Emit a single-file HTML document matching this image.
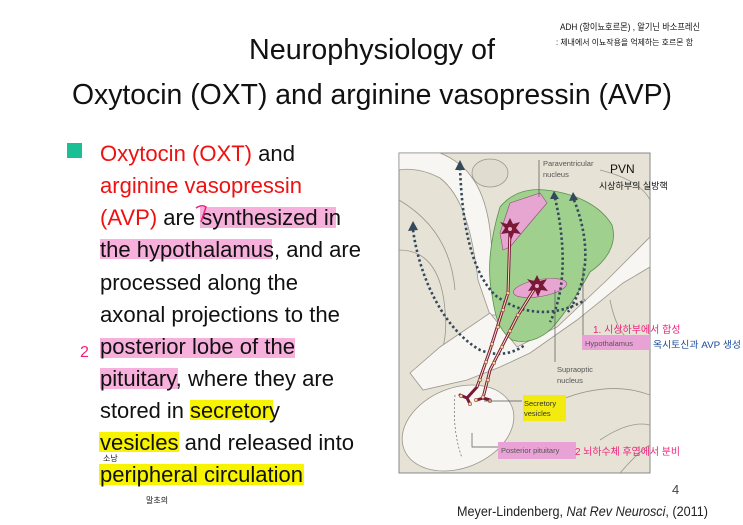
<!DOCTYPE html>
<html><head><meta charset="utf-8"><style>
html,body{margin:0;padding:0;background:#fff;}
svg{display:block;}
</style></head><body>
<svg width="743" height="525" viewBox="0 0 743 525" xmlns="http://www.w3.org/2000/svg" font-family="Liberation Sans, Noto Sans CJK KR, sans-serif">
<rect width="743" height="525" fill="#fff"/>
<text x="372" y="59" font-size="29" text-anchor="middle" fill="#111" textLength="246" lengthAdjust="spacingAndGlyphs">Neurophysiology of</text>
<text x="372" y="104" font-size="29" text-anchor="middle" fill="#111" textLength="600" lengthAdjust="spacingAndGlyphs">Oxytocin (OXT) and arginine vasopressin (AVP)</text>
<text x="560" y="30" font-size="9" fill="#111" textLength="140" lengthAdjust="spacingAndGlyphs">ADH (항이뇨호르몬) , 알기닌 바소프레신</text>
<text x="556" y="45" font-size="8" fill="#111" textLength="137" lengthAdjust="spacingAndGlyphs">: 체내에서 이뇨작용을 억제하는 호르몬 함</text>

<g fill="#f7a8d8" opacity="0.9">
<rect x="200" y="207" width="136" height="21"/>
<rect x="100" y="239" width="172" height="20"/>
<rect x="100" y="338" width="195" height="20"/>
<rect x="100" y="368" width="78" height="21"/>
</g>
<g fill="#f8f400">
<rect x="190" y="400" width="83" height="20"/>
<rect x="99" y="432" width="80" height="20"/>
<rect x="99" y="464" width="205" height="21"/>
</g>
<rect x="67" y="143" width="15" height="15" fill="#1bbf96"/>

<g font-size="22" fill="#111">
<text x="100" y="161" textLength="195" lengthAdjust="spacingAndGlyphs"><tspan fill="#ee1111">Oxytocin (OXT)</tspan> and</text>
<text x="100" y="193" fill="#ee1111" textLength="202" lengthAdjust="spacingAndGlyphs">arginine vasopressin</text>
<text x="100" y="225" textLength="241" lengthAdjust="spacingAndGlyphs"><tspan fill="#ee1111">(AVP)</tspan> are synthesized in</text>
<text x="100" y="257" textLength="261" lengthAdjust="spacingAndGlyphs">the hypothalamus, and are</text>
<text x="100" y="290" textLength="198" lengthAdjust="spacingAndGlyphs">processed along the</text>
<text x="100" y="322" textLength="240" lengthAdjust="spacingAndGlyphs">axonal projections to the</text>
<text x="100" y="354" textLength="195" lengthAdjust="spacingAndGlyphs">posterior lobe of the</text>
<text x="100" y="386" textLength="234" lengthAdjust="spacingAndGlyphs">pituitary, where they are</text>
<text x="100" y="418" textLength="180" lengthAdjust="spacingAndGlyphs">stored in secretory</text>
<text x="100" y="450" textLength="254" lengthAdjust="spacingAndGlyphs">vesicles and released into</text>
<text x="100" y="482" textLength="203" lengthAdjust="spacingAndGlyphs">peripheral circulation</text>
</g>
<path d="M196,208 Q202,204 206,207 L201,222" stroke="#f0207a" stroke-width="1.5" fill="none"/>
<text x="80" y="357" font-size="16" fill="#f0207a">2</text>
<text x="103" y="461" font-size="8" fill="#111">소낭</text>
<text x="146" y="503" font-size="8" fill="#111">말초의</text>

<g>
<rect x="399" y="153" width="251" height="320" fill="#e6e2d6" stroke="#888" stroke-width="1"/>
<clipPath id="c"><rect x="399" y="153" width="251" height="320"/></clipPath>
<g clip-path="url(#c)">
<g fill="none" stroke="#9a968c" stroke-width="0.8">
<path d="M399,250 Q440,250 445,310 Q450,360 420,380"/>
<path d="M399,200 Q450,230 455,290"/>
<path d="M600,170 Q640,180 650,200"/>
<path d="M560,400 Q610,380 650,395"/>
<path d="M600,440 Q630,420 650,425"/>
<path d="M620,473 Q640,450 650,445"/>
<path d="M610,300 Q620,350 650,345"/>
</g>
<path d="M399,153 L440,153 C470,165 485,190 490,230 L495,280 L505,315 L490,315 L478,280 C472,230 462,195 440,178 C425,170 410,168 399,170 Z" fill="#f7f6f2" stroke="#9a968c" stroke-width="0.8"/>
<ellipse cx="490" cy="173" rx="18" ry="14" fill="#e0dccf" stroke="#9a968c" stroke-width="0.8"/>
<path d="M410,373 L440,347 L490,313 L517,347 L557,327 L607,280 L650,237 L650,267 L623,283 L577,320 L530,353 L500,367 L467,380 L423,390 Z" fill="#f7f6f2" stroke="#9a968c" stroke-width="0.8"/>
<ellipse cx="458" cy="428" rx="58" ry="40" transform="rotate(-22 458 428)" fill="#f7f6f2" stroke="#9a968c" stroke-width="0.8"/>
<path d="M455,395 Q452,430 462,458" stroke="#666" stroke-width="0.7" stroke-dasharray="2 2" fill="none"/>
<path d="M500,207 C510,195 525,188 545,190 C575,193 600,205 612,225 C618,245 605,262 590,272 C580,290 568,310 552,328 C540,340 525,344 512,340 C498,330 495,315 492,295 C487,270 490,240 500,207 Z" fill="#9fd08e" stroke="#5a8f4e" stroke-width="0.8"/>
<path d="M500,233 L510,203 L540,193 L547,203 L530,223 L510,247 L503,250 Z" fill="#e7a6d2" stroke="#8a5070" stroke-width="0.6"/>
<ellipse cx="540" cy="288" rx="27" ry="8.5" transform="rotate(-10 540 288)" fill="#e7a6d2" stroke="#8a5070" stroke-width="0.6"/>
<g fill="none" stroke="#34495a" stroke-width="2.6" stroke-dasharray="2.4 2.6">
<path d="M460,168 C462,220 470,270 495,295 C520,315 555,318 585,300"/>
<path d="M413,230 C420,280 445,330 480,350 C500,358 515,352 525,345"/>
<path d="M555,198 C565,240 567,290 550,322"/>
<path d="M574,200 C590,240 590,280 568,312"/>
</g>
<g fill="#34495a">
<path d="M455,170 L460,160 L465,170 Z"/>
<path d="M408,231 L413,221 L418,230 Z"/>
<path d="M550,199 L554,191 L559,199 Z"/>
<path d="M569,201 L573,192 L578,200 Z"/>
</g>
<g stroke="#7a1838" stroke-width="3" fill="none" stroke-linecap="round">
<path d="M510,230 L508,293 L490,350 L477,387 L467,398"/>
<path d="M537,285 L517,317 L490,370 L483,398"/>
<path d="M467,398 L460,395 M467,398 L470,404 M483,398 L477,400 M483,398 L490,400"/>
</g>
<g stroke="#f7e6c0" stroke-width="1" fill="none">
<path d="M510,230 L508,293 L490,350 L477,387"/>
<path d="M537,285 L517,317 L490,370 L483,398"/>
</g>
<g fill="#f0d890" stroke="#7a1838" stroke-width="0.5">
<circle cx="508" cy="293" r="1.8"/><circle cx="503" cy="310" r="1.8"/><circle cx="498" cy="327" r="1.8"/><circle cx="492" cy="344" r="1.8"/><circle cx="486" cy="362" r="1.8"/><circle cx="480" cy="380" r="1.8"/>
<circle cx="518" cy="315" r="1.8"/><circle cx="510" cy="331" r="1.8"/><circle cx="502" cy="347" r="1.8"/><circle cx="494" cy="363" r="1.8"/><circle cx="488" cy="380" r="1.8"/>
<circle cx="461" cy="396" r="1.8"/><circle cx="470" cy="404" r="1.8"/><circle cx="476" cy="400" r="1.8"/><circle cx="483" cy="397" r="1.8"/><circle cx="490" cy="401" r="1.8"/>
</g>
<g fill="#7a1838">
<path d="M510,218 L513,224 L520,222 L516,228 L521,234 L514,233 L511,240 L508,233 L501,234 L505,228 L500,222 L507,224 Z"/>
<path d="M537,275 L540,281 L547,279 L543,285 L548,291 L541,290 L538,297 L535,290 L528,291 L532,285 L527,279 L534,281 Z"/>
</g>
<circle cx="510" cy="229" r="2" fill="#e6b0c8"/><circle cx="537" cy="286" r="2" fill="#e6b0c8"/>
<g stroke="#555" stroke-width="0.7" fill="none">
<path d="M539,160 L539,197"/>
<path d="M583,267 L583,337"/>
<path d="M555,290 L555,362"/>
<path d="M484,401 L522,401"/>
<path d="M472,433 L472,447 L498,447"/>
</g>
<rect x="582" y="335" width="68" height="15" fill="#e9a2d6"/>
<rect x="523" y="395" width="43" height="26" fill="#f3ea10"/>
<rect x="498" y="442" width="78" height="17" fill="#e9a2d6"/>
<g font-size="7.5" fill="#555">
<text x="543" y="166">Paraventricular</text>
<text x="543" y="177">nucleus</text>
<text x="585" y="346">Hypothalamus</text>
<text x="557" y="372">Supraoptic</text>
<text x="557" y="383">nucleus</text>
<text x="524" y="406" fill="#333">Secretory</text>
<text x="524" y="416" fill="#333">vesicles</text>
<text x="501" y="453">Posterior pituitary</text>
</g>
</g>
<text x="610" y="173" font-size="12" fill="#111">PVN</text>
<text x="599" y="189" font-size="9" fill="#111">시상하부의 실방핵</text>
<text x="593" y="333" font-size="10" fill="#f0207a">1. 시상하부에서 합성</text>
<text x="653" y="348" font-size="9.5" fill="#1a4a9a" textLength="88" lengthAdjust="spacingAndGlyphs">옥시토신과 AVP 생성</text>
<text x="575" y="455" font-size="10" fill="#f0207a" textLength="105" lengthAdjust="spacingAndGlyphs">2 뇌하수체 후엽에서 분비</text>
</g>

<text x="672" y="494" font-size="13" fill="#444">4</text>
<text x="457" y="516" font-size="14" fill="#222" textLength="251" lengthAdjust="spacingAndGlyphs">Meyer-Lindenberg, <tspan font-style="italic">Nat Rev Neurosci</tspan>, (2011)</text>
</svg>
</body></html>
